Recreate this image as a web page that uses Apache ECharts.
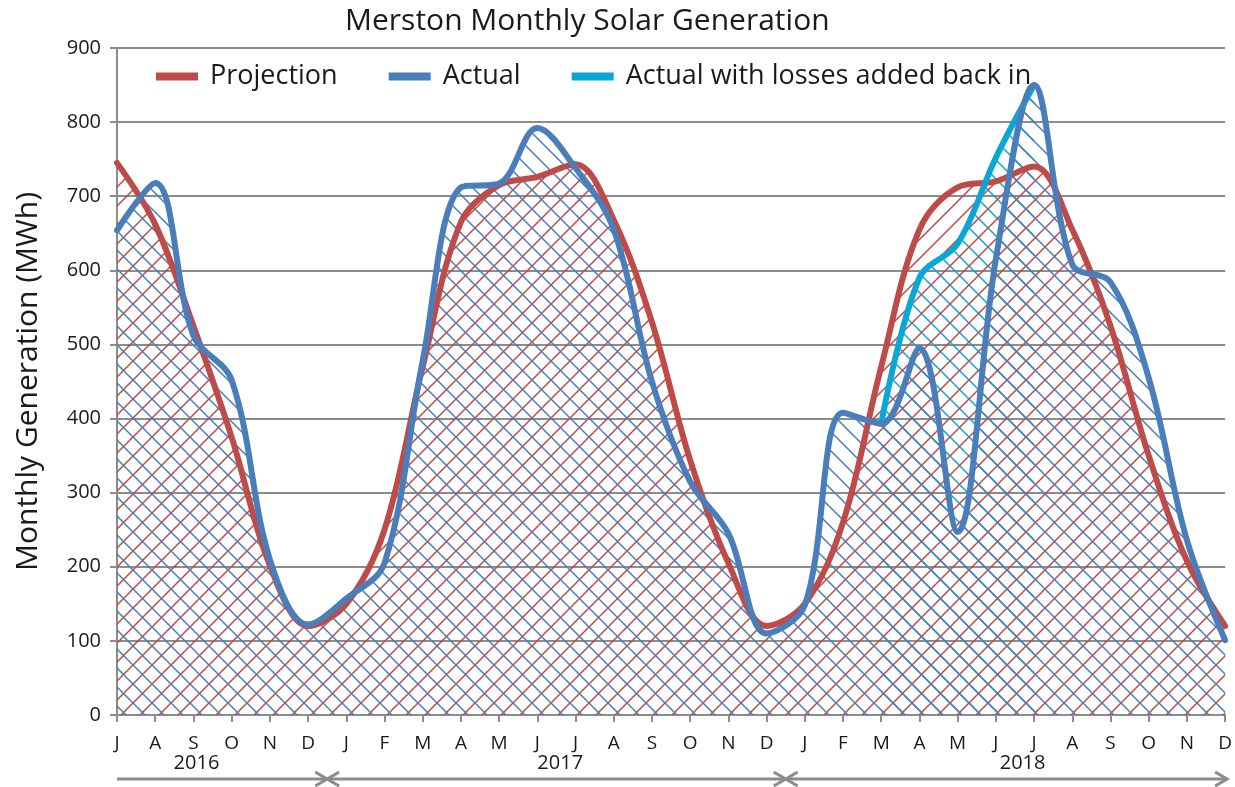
<!DOCTYPE html>
<html>
<head>
<meta charset="utf-8">
<script src="https://cdn.jsdelivr.net/npm/echarts@6/dist/echarts.min.js"></script>
<style>
  html, body { margin: 0; padding: 0; background: #fff; }
  #main { width: 1235px; height: 787px; }
</style>
</head>
<body>
<div id="main"></div>
<script>
// months Jul 2016 .. Dec 2018
const months = ['J', 'A', 'S', 'O', 'N', 'D',
  'J', 'F', 'M', 'A', 'M', 'J', 'J', 'A', 'S', 'O', 'N', 'D',
  'J', 'F', 'M', 'A', 'M', 'J', 'J', 'A', 'S', 'O', 'N', 'D']
const years = ['2016', '2017', '2018']
const yearLabelPos = [2.08, 11.6, 23.7] // category index where the year label sits
const yearBreaks = [0, 5.5, 17.5, 29]   // arrow segments

const projection = [745, 662, 525, 375, 202, 120,
  150, 250, 470, 665, 715, 726, 743, 668, 530, 344, 205, 120,
  150, 260, 470, 655, 712, 720, 740, 655, 525, 350, 208, 120]
const actual = [654, 718, 512, 452, 210, 122,
  157, 205, 478, 712, 717, 792, 738, 655, 450, 315, 245, 110,
  148, 408, 393, 495, 247, 615, 850, 608, 584, 455, 236, 101]
const actualLosses = [null, null, null, null, null, null,
  null, null, null, null, null, null, null, null, null, null, null, null,
  null, null, 393, 590, 636, 752, 850, null, null, null, null, null]

const RED = '#BE4B48'
const BLUE = '#4A7EBB'
const CYAN = '#0AA6D6'
const GREY = '#8C8C8C'
const FONT = 'Open Sans'

// diagonal hatch fill
function hatch (color, dir) {
  const s = 19
  const c = document.createElement('canvas')
  c.width = s
  c.height = s
  const g = c.getContext('2d')
  g.strokeStyle = color
  g.lineWidth = 1.5
  g.beginPath()
  if (dir === '/') {
    g.moveTo(-2, s + 2); g.lineTo(s + 2, -2)
    g.moveTo(-2, 2); g.lineTo(2, -2)
    g.moveTo(s - 2, s + 2); g.lineTo(s + 2, s - 2)
  } else {
    g.moveTo(-2, -2); g.lineTo(s + 2, s + 2)
    g.moveTo(-2, s - 2); g.lineTo(2, s + 2)
    g.moveTo(s - 2, -2); g.lineTo(s + 2, 2)
  }
  g.stroke()
  return { image: c, repeat: 'repeat' }
}

function areaSeries (name, data, color, dir) {
  return {
    name: name,
    type: 'line',
    data: data,
    smooth: 0.35,
    symbol: 'none',
    z: 2,
    lineStyle: { width: 0 },
    areaStyle: { color: hatch(color, dir), opacity: 1 },
    silent: true
  }
}

function lineSeries (name, data, color) {
  return {
    name: name,
    type: 'line',
    data: data,
    smooth: 0.35,
    symbol: 'none',
    z: 3,
    itemStyle: { color: color },
    lineStyle: { width: 6, color: color, cap: 'round' }
  }
}

const chart = echarts.init(document.getElementById('main'))
chart.setOption({
  animation: false,
  textStyle: { fontFamily: FONT },
  title: {
    text: 'Merston Monthly Solar Generation',
    left: 340,
    top: 1,
    textStyle: { fontSize: 30, fontWeight: 'normal', color: '#1a1a1a', fontFamily: FONT }
  },
  legend: {
    data: ['Projection', 'Actual', 'Actual with losses added back in'],
    left: 151,
    top: 58,
    icon: 'rect',
    itemWidth: 42,
    itemHeight: 8,
    itemGap: 51,
    textStyle: { fontSize: 27, color: '#1a1a1a', padding: [0, 0, 0, 7] }
  },
  grid: { left: 117, right: 4, top: 48, bottom: 72 },
  xAxis: {
    type: 'category',
    data: months,
    boundaryGap: false,
    axisLine: { lineStyle: { color: GREY, width: 2 } },
    axisTick: { interval: 0, length: 7, lineStyle: { color: GREY, width: 2 } },
    axisLabel: { interval: 0, margin: 19, fontSize: 19, color: '#1a1a1a' },
    splitLine: { show: false }
  },
  yAxis: {
    type: 'value',
    min: 0,
    max: 900,
    interval: 100,
    name: 'Monthly Generation (MWh)',
    nameLocation: 'middle',
    nameGap: 74,
    nameTextStyle: { fontSize: 30, color: '#1a1a1a' },
    axisLine: { show: true, lineStyle: { color: GREY, width: 2 } },
    axisTick: { show: true, length: 7, lineStyle: { color: GREY, width: 2 } },
    axisLabel: { margin: 16, fontSize: 20, color: '#1a1a1a' },
    splitLine: { lineStyle: { color: GREY, width: 2 } }
  },
  series: [
    areaSeries('losses area', actualLosses, CYAN, '\\'),
    areaSeries('projection area', projection, RED, '/'),
    areaSeries('actual area', actual, BLUE, '\\'),
    lineSeries('Projection', projection, RED),
    lineSeries('Actual with losses added back in', actualLosses, CYAN),
    lineSeries('Actual', actual, BLUE)
  ]
})

// year labels and arrows under the month axis
const x0 = chart.convertToPixel({ xAxisIndex: 0 }, 0)
const x1 = chart.convertToPixel({ xAxisIndex: 0 }, 1)
const step = x1 - x0
const px = i => x0 + step * i
const arrowY = 779
const graphics = []
years.forEach((y, k) => {
  graphics.push({
    type: 'text',
    x: px(yearLabelPos[k]),
    y: 763,
    style: { text: y, fontSize: 20, fill: '#1a1a1a', fontFamily: FONT, align: 'center', verticalAlign: 'middle' }
  })
})
const arrowStyle = { stroke: GREY, lineWidth: 3 }
for (let k = 0; k < 3; k++) {
  const a = px(yearBreaks[k])
  const b = k === 2 ? px(yearBreaks[3]) + 2 : px(yearBreaks[k + 1])
  graphics.push({ type: 'line', shape: { x1: a, y1: arrowY, x2: b, y2: arrowY }, style: arrowStyle })
  // head pointing right at b
  graphics.push({ type: 'polyline', shape: { points: [[b - 12, arrowY - 7], [b, arrowY], [b - 12, arrowY + 7]] }, style: arrowStyle })
  if (k > 0) {
    graphics.push({ type: 'polyline', shape: { points: [[a + 12, arrowY - 7], [a, arrowY], [a + 12, arrowY + 7]] }, style: arrowStyle })
  }
}
chart.setOption({ graphic: graphics })
</script>
</body>
</html>
